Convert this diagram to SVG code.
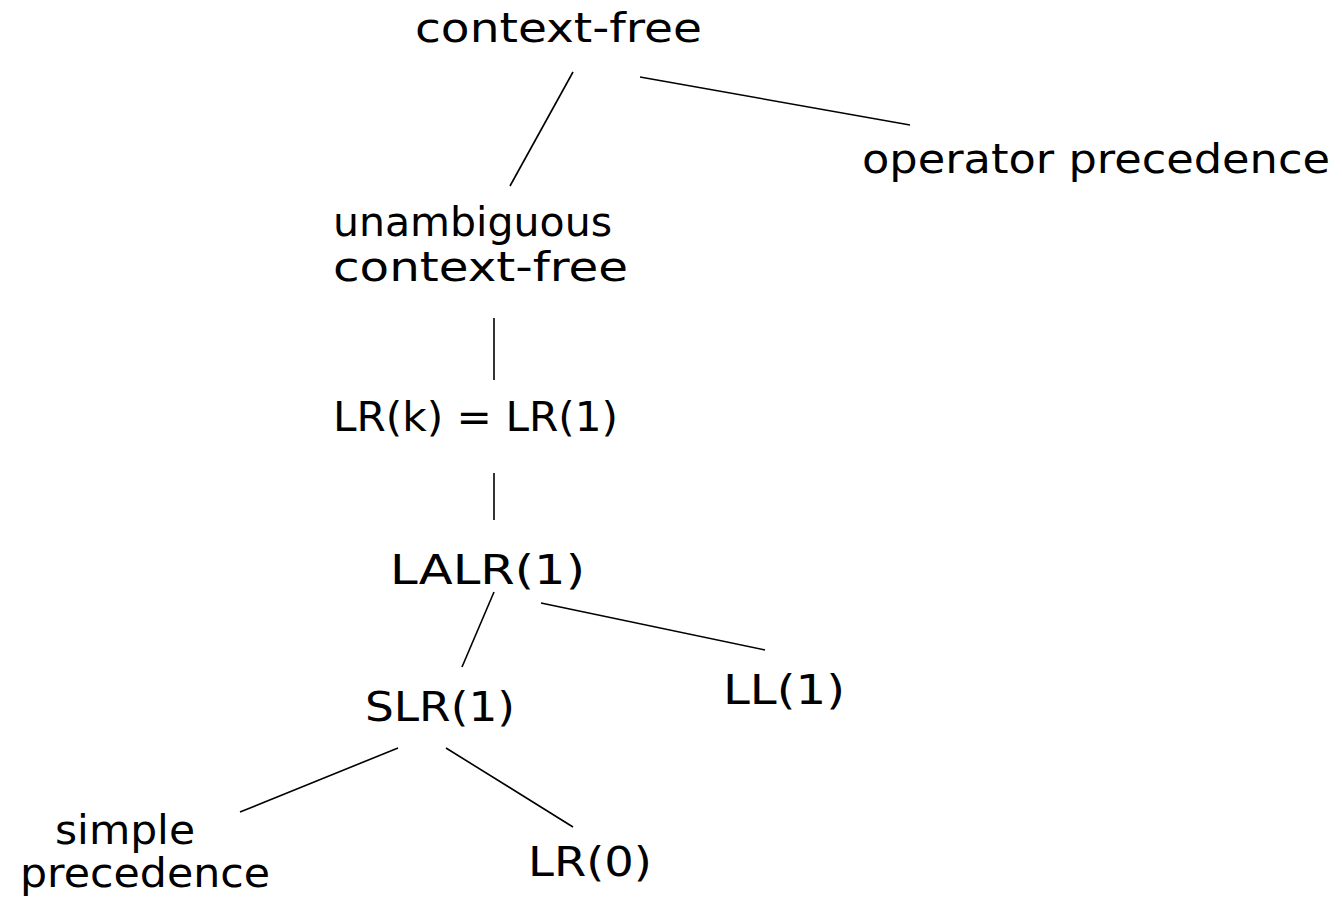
<svg xmlns="http://www.w3.org/2000/svg" width="1342" height="912" viewBox="0 0 1342 912">
<style>
text{font-family:"DejaVu Sans","Liberation Sans",sans-serif;font-size:40px;fill:#000}
.c line{stroke:#000;stroke-width:1.6}
</style>
<rect width="1342" height="912" fill="#fff"/>
<g class="c" id="connectors">
<line x1="573" y1="72" x2="510" y2="186"/>
<line x1="640" y1="77" x2="910" y2="125"/>
<line x1="494" y1="318" x2="494" y2="380"/>
<line x1="494" y1="473" x2="494" y2="520"/>
<line x1="494" y1="592" x2="462" y2="667"/>
<line x1="541" y1="603" x2="765" y2="650"/>
<line x1="398" y1="748" x2="240" y2="812"/>
<line x1="446" y1="748" x2="573" y2="827"/>
</g>
<g id="n-cf"><text x="415" y="42" textLength="287" lengthAdjust="spacingAndGlyphs">context-free</text></g>
<g id="n-op"><text x="862" y="173" textLength="468" lengthAdjust="spacingAndGlyphs">operator precedence</text></g>
<g id="n-ucf"><text x="333" y="236" textLength="279" lengthAdjust="spacingAndGlyphs">unambiguous</text><text x="333" y="281" textLength="295" lengthAdjust="spacingAndGlyphs">context-free</text></g>
<g id="n-lrk"><text x="333" y="431" textLength="285" lengthAdjust="spacingAndGlyphs">LR(k) = LR(1)</text></g>
<g id="n-lalr"><text x="390" y="584" textLength="195" lengthAdjust="spacingAndGlyphs">LALR(1)</text></g>
<g id="n-slr"><text x="365" y="721" textLength="150" lengthAdjust="spacingAndGlyphs">SLR(1)</text></g>
<g id="n-ll"><text x="723" y="704" textLength="122" lengthAdjust="spacingAndGlyphs">LL(1)</text></g>
<g id="n-sp"><text x="55" y="844" font-size="37" textLength="140" lengthAdjust="spacingAndGlyphs">simple</text><text x="20" y="887" font-size="37" textLength="250" lengthAdjust="spacingAndGlyphs">precedence</text></g>
<g id="n-lr0"><text x="528" y="876" textLength="124" lengthAdjust="spacingAndGlyphs">LR(0)</text></g>
</svg>
